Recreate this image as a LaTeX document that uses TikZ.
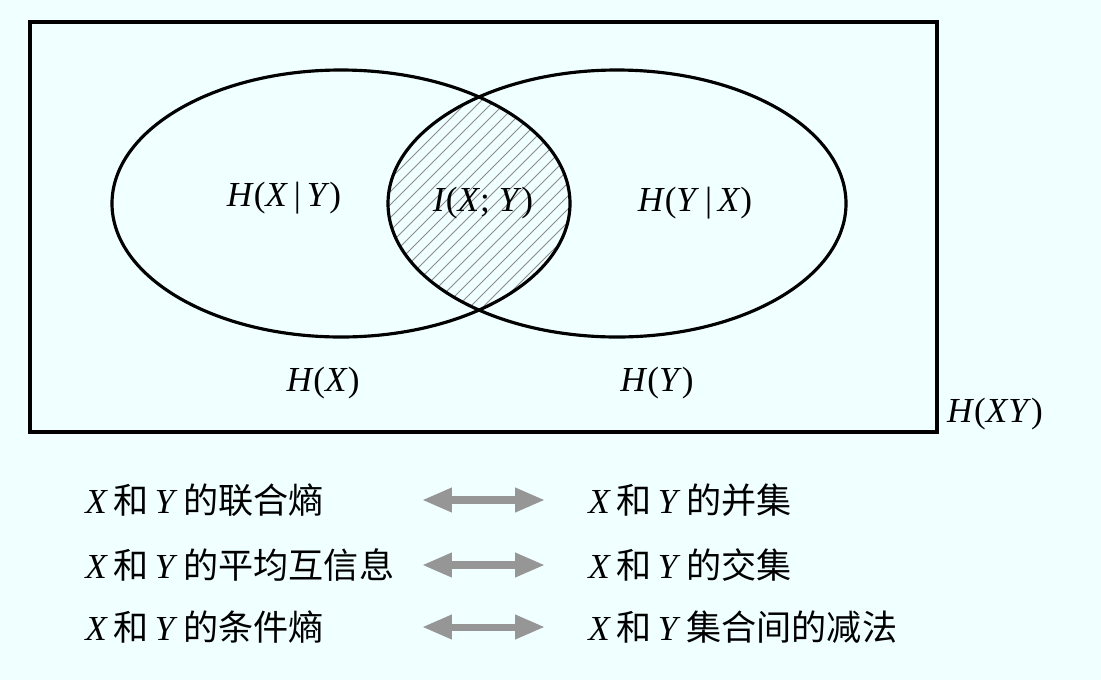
\documentclass[tikz,border=0pt]{standalone}
\usepackage{fontspec}
\setmainfont{Liberation Serif}
\newfontfamily\cjk{Noto Sans CJK SC}
\usetikzlibrary{arrows.meta}
\definecolor{bgc}{RGB}{240,255,255}
\definecolor{hatchc}{RGB}{140,140,140}
\definecolor{arrc}{RGB}{150,150,150}
\newcommand{\vx}{\textit{X}}
\newcommand{\vy}{\textit{Y}}
\newcommand{\vh}{\textit{H}}
\begin{document}
\begin{tikzpicture}[x=0.02cm,y=-0.02cm,
  lbl/.style={inner sep=0pt,font=\fontsize{20}{24}\selectfont},
  row/.style={inner sep=0pt,anchor=west,font=\fontsize{20}{24}\selectfont},
  venn/.style={line width=1.8pt},
  hatchline/.style={draw=hatchc,line width=0.55pt},
  twoway/.style={draw=arrc,line width=4pt,{Triangle[length=17pt,width=13pt]}-{Triangle[length=17pt,width=13pt]}}]
\fill[bgc] (0,0) rectangle (1101,680);
\useasboundingbox (0,0) rectangle (1101,680);
% hatching of the intersection
\begin{scope}
  \clip (341,203.5) ellipse [x radius=229, y radius=133.5];
  \clip (617,203.5) ellipse [x radius=229, y radius=133.5];
  \foreach \a in {0,13,...,728}
    \draw[hatchline] (\a,400) -- (\a+400,0);
\end{scope}
% frame and sets
\draw[line width=1.8pt] (30,22) rectangle (937,432);
\draw[venn] (341,203.5) ellipse [x radius=229, y radius=133.5];
\draw[venn] (617,203.5) ellipse [x radius=229, y radius=133.5];
% labels
\node[lbl] (hxy1) at (284,198) {\vh(\vx\,|\,\vy)};
\node[lbl] (ixy) at (483,203) {\textit{I}(\vx; \vy)};
\node[lbl] (hyx) at (695,203) {\vh(\vy\,|\,\vx)};
\node[lbl] (hx) at (323,383) {\vh(\vx)};
\node[lbl] (hy) at (657,383) {\vh(\vy)};
\node[lbl] (hxy) at (995,414) {\vh(\vx\vy)};
% legend rows
\node[row] (l1) at (85,500) {\vx\,{\cjk 和}\,\vy\,{\cjk 的联合熵}};
\node[row] (l2) at (85,565) {\vx\,{\cjk 和}\,\vy\,{\cjk 的平均互信息}};
\node[row] (l3) at (85,627) {\vx\,{\cjk 和}\,\vy\,{\cjk 的条件熵}};
\node[row] (r1) at (588,500) {\vx\,{\cjk 和}\,\vy\,{\cjk 的并集}};
\node[row] (r2) at (588,565) {\vx\,{\cjk 和}\,\vy\,{\cjk 的交集}};
\node[row] (r3) at (588,627) {\vx\,{\cjk 和}\,\vy\,{\cjk 集合间的减法}};
\coordinate (a1l) at (422,500); \coordinate (a1r) at (545,500);
\coordinate (a2l) at (422,565); \coordinate (a2r) at (545,565);
\coordinate (a3l) at (422,627); \coordinate (a3r) at (545,627);
\draw[twoway] (a1l) -- (a1r);
\draw[twoway] (a2l) -- (a2r);
\draw[twoway] (a3l) -- (a3r);
\end{tikzpicture}
\end{document}
